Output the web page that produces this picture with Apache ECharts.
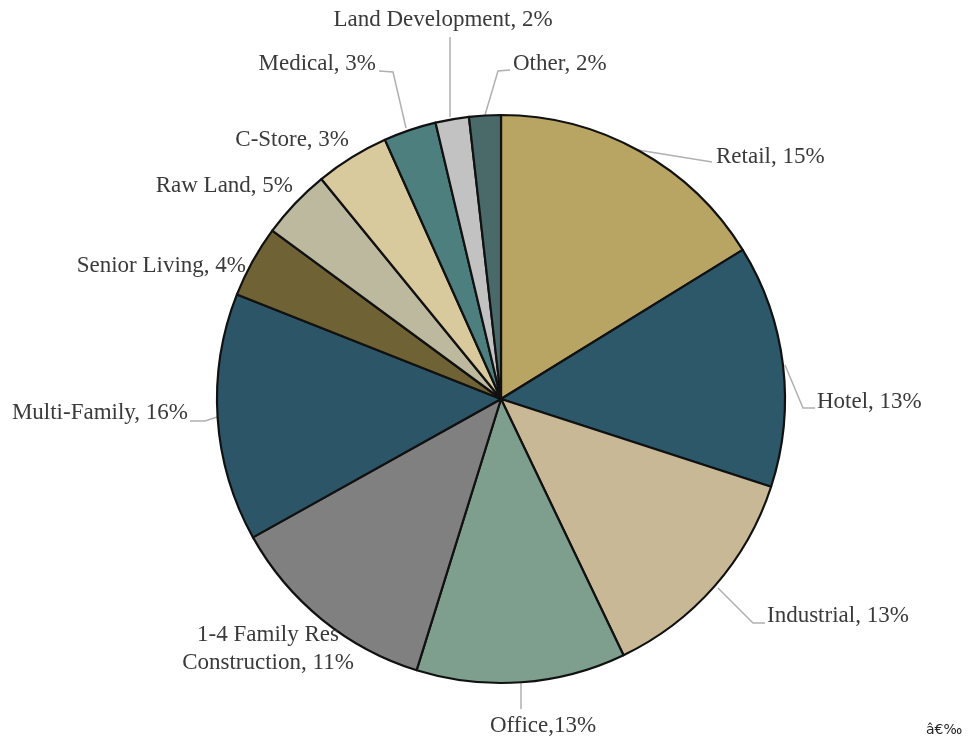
<!DOCTYPE html>
<html>
<head>
<meta charset="utf-8">
<script src="https://cdn.jsdelivr.net/npm/echarts@6/dist/echarts.min.js"></script>
<style>html,body{margin:0;padding:0;background:#fff;}#main{width:975px;height:742px;}</style>
</head>
<body>
<div id="main"></div>
<script>
// Data (share of portfolio)
var categories = ['Retail','Hotel','Industrial','Office','1-4 Family Res Construction','Multi-Family','Senior Living','Raw Land','C-Store','Medical','Land Development','Other'];
var values = [16.2, 13.8, 12.9, 11.9, 12.1, 14.1, 4.1, 4.0, 4.2, 3.0, 1.9, 1.8];
var labelTexts = ['Retail, 15%','Hotel, 13%','Industrial, 13%','Office,13%','1-4 Family Res\nConstruction, 11%','Multi-Family, 16%','Senior Living, 4%','Raw Land, 5%','C-Store, 3%','Medical, 3%','Land Development, 2%','Other, 2%'];
var colors = ['#B8A463','#2C5869','#C8B896','#7E9E8E','#808080','#2C5668','#6F6235','#BCB99E','#D9CA9E','#4D7F7E','#C2C2C2','#4A6A6A'];

// label placement (layout only)
var labelPos = [
  {x:716, y:157, align:'left',   line:[[638,150],[712,162]]},
  {x:817, y:402, align:'left',   line:[[785,365],[803,408],[815,408]]},
  {x:767, y:616, align:'left',   line:[[718,588],[753,623],[765,623]]},
  {x:543, y:726, align:'center', line:[[521,683],[521,709]]},
  {x:268, y:649, align:'center', line:null},
  {x:188, y:413, align:'right',  line:[[217,417],[205,421],[190,421]]},
  {x:246, y:266, align:'right',  line:null},
  {x:293, y:186, align:'right',  line:null},
  {x:349, y:140, align:'right',  line:null},
  {x:376, y:64,  align:'right',  line:[[406,128],[393,72],[379,71]]},
  {x:443, y:20,  align:'center', line:[[450,117],[450,37]]},
  {x:513, y:64,  align:'left',   line:[[485,115],[498,71],[510,70]]}
];

var data = categories.map(function(c,i){
  var item = {name:c, value:values[i], itemStyle:{color:colors[i]}};
  if (!labelPos[i].line) item.labelLine = {show:false};
  return item;
});

var chart = echarts.init(document.getElementById('main'), null, {renderer:'canvas'});
chart.setOption({
  animation:false,
  backgroundColor:'#ffffff',
  series:[{
    type:'pie',
    center:[501,399],
    radius:[0,284],
    startAngle:90,
    clockwise:true,
    data:data,
    itemStyle:{borderColor:'#111',borderWidth:2.2},
    label:{
      show:true,
      position:'outside',
      overflow:'none',
      fontFamily:'Liberation Serif',
      fontSize:23,
      color:'#3a3a3a',
      lineHeight:28,
      formatter:function(p){return labelTexts[p.dataIndex];}
    },
    labelLine:{show:true,lineStyle:{color:'#b0b0b0',width:1.5}},
    labelLayout:function(p){
      var lp = labelPos[p.dataIndex];
      var o = {x:lp.x, y:lp.y, align:lp.align, verticalAlign:'middle'};
      if (lp.line) o.labelLinePoints = lp.line;
      return o;
    }
  }],
  graphic:[{
    type:'text', left:926, top:723,
    style:{text:'â€‰', font:'14px "DejaVu Sans"', fill:'#222'}
  }]
});
</script>
</body>
</html>
